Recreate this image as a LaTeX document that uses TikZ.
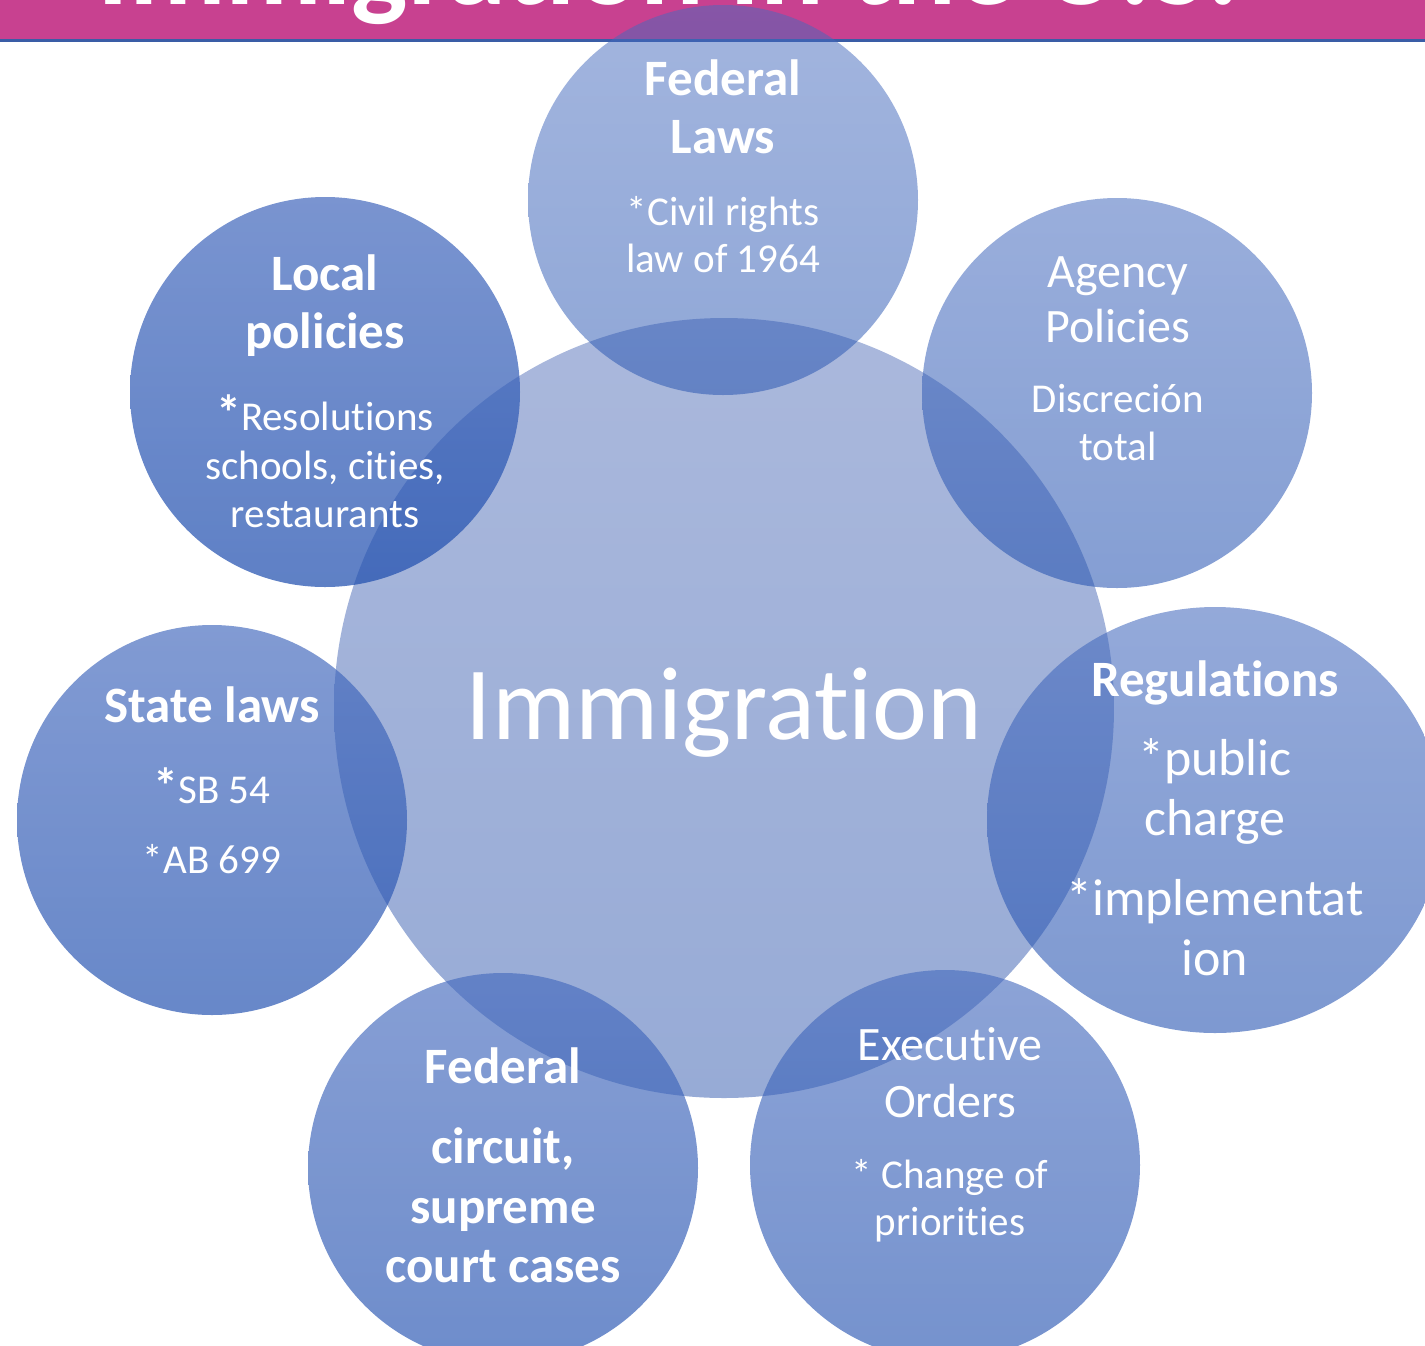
\documentclass[tikz,border=0pt]{standalone}
\usepackage{fontspec}
\setmainfont{Carlito}[Ligatures={NoCommon,NoContextual}]
\usetikzlibrary{shapes.geometric}

\definecolor{banner}{HTML}{C84190}
\definecolor{bannerline}{HTML}{3A5DA6}
\definecolor{bubtop}{HTML}{466BBE}
\definecolor{bubbot}{HTML}{204FAF}
\definecolor{hubtop}{HTML}{AAB8DC}
\definecolor{hubbot}{HTML}{97ABD6}

\newcommand\bigstar{{\fontsize{50}{56}\selectfont\bfseries *}}

\tikzset{
  bub/.style={circle, inner sep=0pt, minimum size=390pt, top color=bubtop, bottom color=bubbot, fill opacity=#1},
  hd/.style={anchor=base, inner sep=0pt, text=white, font=\fontsize{51}{58}\selectfont\bfseries},
  bd/.style={anchor=base, inner sep=0pt, text=white, font=\fontsize{41}{48}\selectfont},
  bdl/.style={anchor=base, inner sep=0pt, text=white, font=\fontsize{48}{56}\selectfont},
  bdx/.style={anchor=base, inner sep=0pt, text=white, font=\fontsize{52}{60}\selectfont},
}

\begin{document}
\begin{tikzpicture}[x=1pt,y=-1pt]

\useasboundingbox (0,0) rectangle (1425,1345);
\clip (0,0) rectangle (1425,1345);

% title band
\fill[banner] (0,0) rectangle (1425,39);
\fill[bannerline] (0,39) rectangle (1425,42);
\node[anchor=base, inner sep=0pt, text=white, font=\fontsize{119}{140}\selectfont\bfseries] (title) at (668,4) {Immigration in the U.S.};

% hub
\node[circle, inner sep=0pt, minimum size=780pt, top color=hubtop, bottom color=hubbot] (imm) at (724,708) {};

% satellites
\node[bub=0.50] (fl) at (723,200) {};
\node[bub=0.55] (ag) at (1117,393) {};
\node[ellipse, inner sep=0pt, minimum width=456pt, minimum height=426pt, top color=bubtop, bottom color=bubbot, fill opacity=0.58] (rg) at (1215,820) {};
\node[bub=0.62] (eo) at (945,1165) {};
\node[bub=0.65] (fc) at (503,1168) {};
\node[bub=0.68] (sl) at (212,820) {};
\node[bub=0.72] (lp) at (325,392) {};

% texts
\node[anchor=base, inner sep=0pt, text=white, font=\fontsize{104}{120}\selectfont] (immT) at (724,739) {Immigration};

\foreach \t/\yy [count=\i] in {Federal/95, Laws/153}
  \node[hd] (flh\i) at (723,\yy) {\t};
\foreach \t/\yy [count=\i] in {*Civil rights/225, law of 1964/272}
  \node[bd] (flb\i) at (723,\yy) {\t};

\foreach \t/\yy [count=\i] in {Agency/287, Policies/342}
  \node[bdl] (agh\i) at (1118,\yy) {\t};
\foreach \t/\yy [count=\i] in {Discreción/412, total/460}
  \node[bd] (agb\i) at (1118,\yy) {\t};

\node[hd] (rgh) at (1215,696) {Regulations};
\foreach \t/\yy [count=\i] in {*public/775, charge/835, *implementat/915, ion/975}
  \node[bdx] (rgb\i) at (1215,\yy) {\t};

\foreach \t/\yy [count=\i] in {Executive/1060, Orders/1117}
  \node[bdl] (eoh\i) at (950,\yy) {\t};
\foreach \t/\yy [count=\i] in {* Change of/1188, priorities/1235}
  \node[bd] (eob\i) at (950,\yy) {\t};

\foreach \t/\yy [count=\i] in {Federal/1083, {circuit,}/1163, supreme/1223, court cases/1282}
  \node[hd] (fch\i) at (503,\yy) {\t};

\node[hd] (slh) at (212,722) {State laws};
\node[bd] (slb1) at (212,803) {\bigstar SB 54};
\node[bd] (slb2) at (212,873) {*AB 699};

\foreach \t/\yy [count=\i] in {Local/290, policies/348}
  \node[hd] (lph\i) at (325,\yy) {\t};
\foreach \t/\yy [count=\i] in {{\bigstar Resolutions}/430, {schools, cities,}/479, restaurants/527}
  \node[bd] (lpb\i) at (325,\yy) {\t};

\end{tikzpicture}
\end{document}
